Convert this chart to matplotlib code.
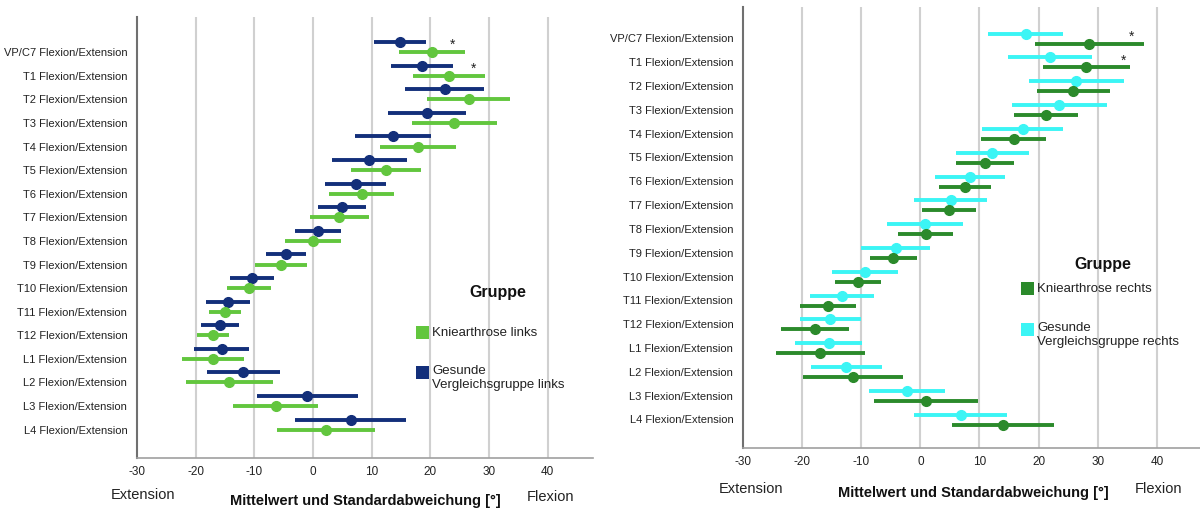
import matplotlib
matplotlib.use("Agg")
import matplotlib.pyplot as plt
from matplotlib.patches import Rectangle

plt.rcParams['font.family'] = ['Liberation Sans', 'DejaVu Sans']

categories = ["VP/C7 Flexion/Extension", "T1 Flexion/Extension", "T2 Flexion/Extension",
              "T3 Flexion/Extension", "T4 Flexion/Extension", "T5 Flexion/Extension",
              "T6 Flexion/Extension", "T7 Flexion/Extension", "T8 Flexion/Extension",
              "T9 Flexion/Extension", "T10 Flexion/Extension", "T11 Flexion/Extension",
              "T12 Flexion/Extension", "L1 Flexion/Extension", "L2 Flexion/Extension",
              "L3 Flexion/Extension", "L4 Flexion/Extension"]

# Left side
knee_left_mean = [20.3, 23.2, 26.5, 24.1, 17.9, 12.4, 8.3, 4.5, 0.0, -5.5, -10.9, -15.0, -17.0, -17.0, -14.3, -6.4, 2.2]
knee_left_sd = [5.6, 6.1, 7.1, 7.2, 6.5, 6.0, 5.5, 5.1, 4.8, 4.4, 3.8, 2.8, 2.7, 5.3, 7.4, 7.3, 8.3]
healthy_left_mean = [14.8, 18.6, 22.4, 19.4, 13.6, 9.6, 7.3, 5.0, 0.8, -4.6, -10.4, -14.5, -15.9, -15.6, -11.9, -1.0, 6.4]
healthy_left_sd = [4.4, 5.3, 6.7, 6.6, 6.5, 6.4, 5.2, 4.1, 3.9, 3.4, 3.8, 3.8, 3.2, 4.7, 6.2, 8.6, 9.4]

# Right side
knee_right_mean = [28.6, 28.1, 25.9, 21.3, 15.8, 11.0, 7.5, 4.8, 0.9, -4.6, -10.5, -15.6, -17.8, -16.9, -11.4, 0.9, 14.0]
knee_right_sd = [9.2, 7.3, 6.1, 5.4, 5.5, 4.9, 4.4, 4.6, 4.6, 4.0, 3.9, 4.7, 5.8, 7.5, 8.4, 8.8, 8.6]
healthy_right_mean = [17.8, 21.9, 26.4, 23.5, 17.3, 12.2, 8.4, 5.1, 0.8, -4.2, -9.4, -13.3, -15.2, -15.5, -12.5, -2.3, 6.8]
healthy_right_sd = [6.4, 7.1, 8.0, 8.0, 6.9, 6.1, 5.9, 6.1, 6.4, 5.8, 5.6, 5.4, 5.2, 5.7, 6.0, 6.4, 7.8]

# significance markers: (category index, x value)
stars_left = [(0, 23.7), (1, 27.3)]
stars_right = [(0, 35.8), (1, 34.3)]

xticks = [-30, -20, -10, 0, 10, 20, 30, 40]

col_knee_l = "#62C63E"
col_healthy_l = "#132F7A"
col_knee_r = "#2B8A2B"
col_healthy_r = "#3BF5F5"

W, H = 1200, 512
fig = plt.figure(figsize=(W / 100, H / 100), dpi=100)


def fx(px):
    return px / W


def fy(py):
    return 1 - py / H


def make_axes(l, r, t, b, xmax, ytop):
    ax = fig.add_axes([fx(l), fy(b), fx(r - l), fy(t) - fy(b)])
    ax.set_xlim(-30, xmax)
    ax.set_ylim(17.2, ytop)
    ax.set_xticks(xticks)
    ax.set_xticklabels([str(v) for v in xticks], fontsize=8.5, color="#222222")
    ax.set_yticks(range(len(categories)))
    ax.set_yticklabels(categories, fontsize=8, color="#222222")
    ax.tick_params(length=0, pad=6)
    ax.tick_params(axis='y', pad=7)
    for v in xticks[1:]:
        ax.axvline(v, color="#D0D0D0", lw=1.5, zorder=0)
    ax.spines['top'].set_visible(False)
    ax.spines['right'].set_visible(False)
    ax.spines['left'].set_color("#707070")
    ax.spines['left'].set_linewidth(1.5)
    ax.spines['bottom'].set_color("#A0A0A0")
    ax.spines['bottom'].set_linewidth(1.2)
    return ax


def draw_series(ax, mean, sd, offset, color):
    ys = [i + offset for i in range(len(mean))]
    ax.errorbar(mean, ys, xerr=sd, fmt='o', color=color, ecolor=color,
                elinewidth=2.8, markersize=7, capsize=0, zorder=3)


# ---- Left panel
axL = make_axes(137, 593, 17, 458, 47.7, -1.49)
draw_series(axL, healthy_left_mean, healthy_left_sd, -0.43, col_healthy_l)
draw_series(axL, knee_left_mean, knee_left_sd, 0.0, col_knee_l)
for i, xv in stars_left:
    axL.text(xv, i - 0.3, "*", ha='center', va='center', fontsize=10, color="#222222")

# ---- Right panel
axR = make_axes(743, 1200, 7, 448, 47.3, -1.32)
draw_series(axR, healthy_right_mean, healthy_right_sd, -0.2, col_healthy_r)
draw_series(axR, knee_right_mean, knee_right_sd, 0.22, col_knee_r)
for i, xv in stars_right:
    axR.text(xv, i - 0.05, "*", ha='center', va='center', fontsize=10, color="#222222")

# ---- Axis titles
for (ext_x, ext_y, mid_x, mid_y, flx_x, flx_y) in [(143, 495, 365, 501, 550, 497),
                                                    (751, 489, 973, 493, 1159, 489)]:
    fig.text(fx(ext_x), fy(ext_y), "Extension", ha='center', va='center', fontsize=10.5, color="#222222")
    fig.text(fx(mid_x), fy(mid_y), "Mittelwert und Standardabweichung [°]", ha='center', va='center',
             fontsize=10.5, fontweight='bold', color="#111111")
    fig.text(fx(flx_x), fy(flx_y), "Flexion", ha='center', va='center', fontsize=10.5, color="#222222")

# ---- Legends
def legend(title_xy, entries):
    tx, ty = title_xy
    fig.text(fx(tx), fy(ty), "Gruppe", ha='center', va='center', fontsize=11.5, fontweight='bold',
             color="#111111")
    for (sx, sy, color, label) in entries:
        fig.add_artist(Rectangle((fx(sx), fy(sy + 13)), fx(13), fy(0) - fy(13),
                                 transform=fig.transFigure, facecolor=color, edgecolor='none'))
        nlines = label.count("\n")
        fig.text(fx(sx + 16), fy(sy + 6.5 + 5.5 * nlines), label, ha='left', va='center', fontsize=9.5,
                 color="#222222", linespacing=1.25)


legend((498, 292), [(416, 326, col_knee_l, "Kniearthrose links"),
                    (416, 366, col_healthy_l, "Gesunde\nVergleichsgruppe links")])
legend((1103, 265), [(1021, 282, col_knee_r, "Kniearthrose rechts"),
                     (1021, 323, col_healthy_r, "Gesunde\nVergleichsgruppe rechts")])

fig.savefig("out.png", dpi=100)
